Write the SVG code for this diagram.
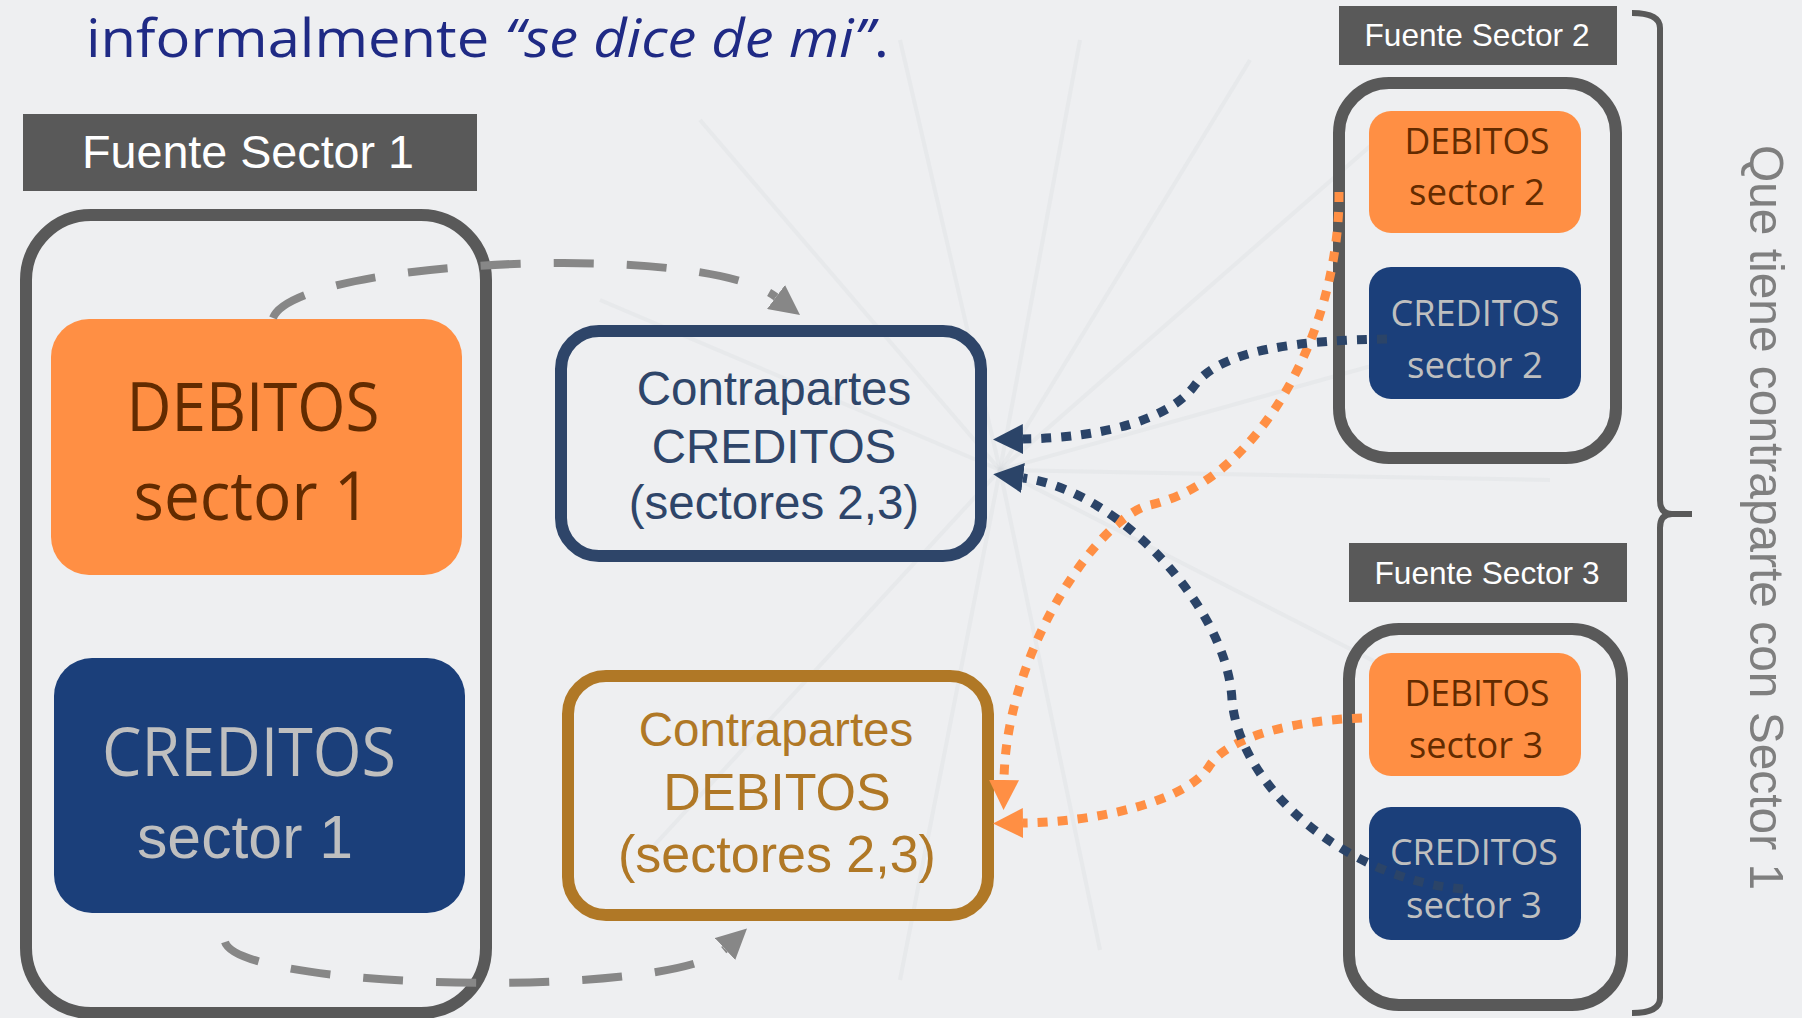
<svg xmlns="http://www.w3.org/2000/svg" width="1802" height="1018" viewBox="0 0 1802 1018">
<defs>
<style>
.frame{fill:none;stroke:#595959;stroke-width:12}
.label{fill:#595959}
.labtxt{font-family:"Liberation Sans",Arial,sans-serif;fill:#ffffff;text-anchor:middle}
.deb{fill:#FF8F44}
.cred{fill:#1B3F7A}
.cal{font-family:"Open Sans","Noto Sans",sans-serif;text-anchor:middle}
.ar{font-family:"Liberation Sans",Arial,sans-serif;text-anchor:middle}
.debt{fill:#632B00}
.credt{fill:#BFBFBF}
.dash{fill:none;stroke:#878787;stroke-width:8;stroke-dasharray:40 33}
.dotn{fill:none;stroke:#2B4468;stroke-width:9;stroke-dasharray:10 10}
.doto{fill:none;stroke:#FF8F44;stroke-width:9;stroke-dasharray:10 10}
.ray{stroke:#d8dadf;stroke-width:4;opacity:0.3;fill:none}
</style>
<marker id="ag" viewBox="0 0 30 30" refX="0" refY="15" markerWidth="30" markerHeight="30" markerUnits="userSpaceOnUse" orient="auto"><path d="M0,0L30,15L0,30z" fill="#878787"/></marker>
<marker id="an" viewBox="0 0 30 30" refX="0" refY="15" markerWidth="30" markerHeight="30" markerUnits="userSpaceOnUse" orient="auto"><path d="M0,0L30,15L0,30z" fill="#2B4468"/></marker>
<marker id="ao" viewBox="0 0 30 30" refX="0" refY="15" markerWidth="30" markerHeight="30" markerUnits="userSpaceOnUse" orient="auto"><path d="M0,0L30,15L0,30z" fill="#FF8F44"/></marker>
</defs>
<rect x="0" y="0" width="1802" height="1018" fill="#EEEFF1"/>
<g id="background-rays">
<path class="ray" d="M1000,470 L1400,120"/>
<path class="ray" d="M1000,470 L1250,60"/>
<path class="ray" d="M1000,470 L1080,40"/>
<path class="ray" d="M1000,470 L900,40"/>
<path class="ray" d="M1000,470 L700,120"/>
<path class="ray" d="M1000,470 L600,300"/>
<path class="ray" d="M1000,470 L1500,330"/>
<path class="ray" d="M1000,470 L1550,480"/>
<path class="ray" d="M1000,470 L1450,700"/>
<path class="ray" d="M1000,470 L1100,950"/>
<path class="ray" d="M1000,470 L900,980"/>
<path class="ray" d="M1000,470 L650,850"/>
</g>
<g id="title">
<text x="86" y="57" font-family="'Open Sans','Noto Sans',sans-serif" font-size="53" fill="#1F2A85" textLength="803" lengthAdjust="spacingAndGlyphs">informalmente <tspan font-style="italic">“se dice de mi”</tspan>.</text>
</g>
<g id="sector1">
<rect class="label" x="23" y="114" width="454" height="77"/>
<text class="labtxt" x="248" y="168" font-size="47" textLength="332" lengthAdjust="spacingAndGlyphs">Fuente Sector 1</text>
<rect class="frame" x="26" y="215" width="460" height="798" rx="65"/>
</g>
<g id="debitos1">
<rect class="deb" x="51" y="319" width="411" height="256" rx="38"/>
<text class="cal debt" x="253" y="431" font-size="67" textLength="253" lengthAdjust="spacingAndGlyphs">DEBITOS</text>
<text class="cal debt" x="252" y="520" font-size="67" textLength="237" lengthAdjust="spacingAndGlyphs">sector 1</text>
</g>
<g id="creditos1">
<rect class="cred" x="54" y="658" width="411" height="255" rx="38"/>
<text class="cal credt" x="249" y="776" font-size="67" textLength="294" lengthAdjust="spacingAndGlyphs">CREDITOS</text>
<text class="ar credt" x="245" y="858" font-size="62" textLength="216" lengthAdjust="spacingAndGlyphs">sector 1</text>
</g>
<g id="contrapartes-creditos">
<rect x="561" y="331" width="420" height="225" rx="38" fill="none" stroke="#2E4569" stroke-width="12"/>
<text class="ar" x="774" y="405" font-size="47.5" fill="#2E4569">Contrapartes</text>
<text class="ar" x="774" y="463" font-size="47.5" fill="#2E4569">CREDITOS</text>
<text class="ar" x="774" y="519" font-size="47.5" fill="#2E4569">(sectores 2,3)</text>
</g>
<g id="contrapartes-debitos">
<rect x="568" y="676" width="420" height="239" rx="38" fill="none" stroke="#B07826" stroke-width="12"/>
<text class="ar" x="776" y="746" font-size="47.5" fill="#B07826">Contrapartes</text>
<text class="ar" x="777" y="810" font-size="52" fill="#B07826">DEBITOS</text>
<text class="ar" x="777" y="872" font-size="52" fill="#B07826">(sectores 2,3)</text>
</g>
<g id="sector2">
<rect class="label" x="1339" y="6" width="278" height="59"/>
<text class="labtxt" x="1477" y="46" font-size="32" textLength="225" lengthAdjust="spacingAndGlyphs">Fuente Sector 2</text>
<rect class="frame" x="1339" y="83" width="277" height="375" rx="50"/>
</g>
<g id="debitos2">
<rect class="deb" x="1369" y="111" width="212" height="122" rx="22"/>
<text class="cal debt" x="1477" y="154" font-size="37" textLength="145" lengthAdjust="spacingAndGlyphs">DEBITOS</text>
<text class="cal debt" x="1477" y="205" font-size="37" textLength="136" lengthAdjust="spacingAndGlyphs">sector 2</text>
</g>
<g id="creditos2">
<rect class="cred" x="1369" y="267" width="212" height="132" rx="22"/>
<text class="cal credt" x="1475" y="326" font-size="37" textLength="169" lengthAdjust="spacingAndGlyphs">CREDITOS</text>
<text class="cal credt" x="1475" y="378" font-size="37" textLength="136" lengthAdjust="spacingAndGlyphs">sector 2</text>
</g>
<g id="sector3">
<rect class="label" x="1349" y="543" width="278" height="59"/>
<text class="labtxt" x="1487" y="584" font-size="32" textLength="225" lengthAdjust="spacingAndGlyphs">Fuente Sector 3</text>
<rect class="frame" x="1349" y="629" width="273" height="376" rx="50"/>
</g>
<g id="debitos3">
<rect class="deb" x="1369" y="653" width="212" height="123" rx="22"/>
<text class="cal debt" x="1477" y="706" font-size="37" textLength="145" lengthAdjust="spacingAndGlyphs">DEBITOS</text>
<text class="cal debt" x="1476" y="758" font-size="37" textLength="134" lengthAdjust="spacingAndGlyphs">sector 3</text>
</g>
<g id="creditos3">
<rect class="cred" x="1369" y="807" width="212" height="133" rx="22"/>
<text class="cal credt" x="1474" y="865" font-size="37" textLength="168" lengthAdjust="spacingAndGlyphs">CREDITOS</text>
<text class="cal credt" x="1474" y="918" font-size="37" textLength="136" lengthAdjust="spacingAndGlyphs">sector 3</text>
</g>
<g id="brace">
<path d="M1632,13 Q1660,13 1660,28 L1660,500 Q1660,514 1672,514 L1692,514 M1672,514 Q1660,514 1660,528 L1660,998 Q1660,1013 1632,1013" fill="none" stroke="#595959" stroke-width="6"/>
<text transform="translate(1750,145) rotate(90)" font-family="'Liberation Sans',Arial,sans-serif" font-size="49" fill="#7F7F7F" textLength="745" lengthAdjust="spacingAndGlyphs">Que tiene contraparte con Sector 1</text>
</g>
<g id="connectors">
<path class="dash" d="M273,318 C295,260 700,240 776,297" marker-end="url(#ag)"/>
<path class="dash" d="M225,942 C240,990 670,1000 725,949" marker-end="url(#ag)"/>
<path class="doto" d="M1339,192 C1340,330 1260,480 1150,505 C1100,516 1006,650 1004,780" marker-end="url(#ao)"/>
<path class="doto" d="M1362,718 C1300,720 1230,735 1210,765 C1190,800 1100,822 1023,823" marker-end="url(#ao)"/>
<path class="dotn" d="M1387,339 C1300,340 1220,350 1195,385 C1170,420 1100,438 1023,439" marker-end="url(#an)"/>
<path class="dotn" d="M1463,889 C1350,880 1240,790 1232,700 C1228,610 1120,490 1023,478" marker-end="url(#an)"/>
</g>
</svg>
